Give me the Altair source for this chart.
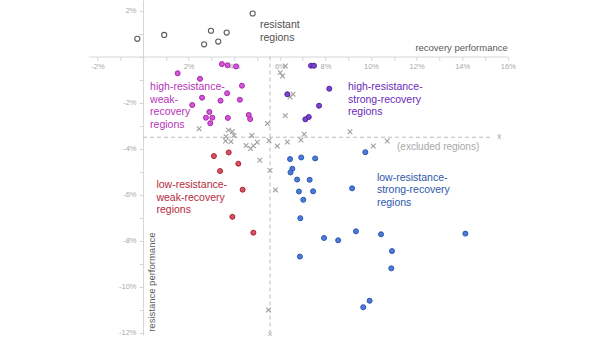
import altair as alt
import pandas as pd

# ---------------- data (percent) ----------------
res_x = [-0.25, 0.93, 2.98, 3.67, 2.68, 3.30, 4.81]
res_y = [0.77, 0.94, 1.12, 1.04, 0.53, 0.65, 1.87]

hw_x = [1.52, 2.50, 3.46, 3.71, 4.08, 4.34, 3.69, 2.59, 3.40, 4.25, 2.16, 2.91, 2.76, 3.04, 3.72, 2.95, 4.64, 4.70]
hw_y = [-0.73, -0.97, -0.33, -0.38, -0.43, -1.27, -1.60, -1.79, -1.92, -1.88, -2.11, -2.41, -2.66, -2.66, -2.67, -2.90, -2.54, -2.72]

hs_x = [7.37, 7.50, 8.17, 6.33, 7.72, 7.27, 7.12]
hs_y = [-0.40, -0.40, -1.40, -1.64, -2.14, -2.63, -2.73]

lw_x = [3.11, 3.76, 4.18, 3.38, 4.37, 3.92, 4.84]
lw_y = [-4.33, -4.17, -4.66, -4.98, -5.79, -6.97, -7.66]

ls_x = [6.45, 6.94, 7.55, 9.75, 6.55, 6.47, 6.76, 7.31, 9.17, 6.84, 7.46, 7.03, 6.90,
        7.94, 8.56, 9.34, 10.44, 14.14, 10.92, 6.88, 10.89, 9.94, 9.66]
ls_y = [-4.46, -4.39, -4.43, -4.16, -4.88, -5.04, -5.35, -5.36, -5.73, -5.87, -5.86, -6.23, -7.03,
        -7.89, -7.99, -7.60, -7.73, -7.70, -8.46, -8.70, -9.21, -10.62, -10.90]

ex_x = [6.25, 6.02, 6.12, 6.45, 6.58, 6.24, 5.46, 2.46, 3.75, 3.92, 3.64, 3.99, 3.62, 3.86, 4.77, 4.52,
        4.72, 4.85, 5.01, 5.53, 5.89, 6.33, 6.93, 7.07, 9.08, 10.10, 10.71, 5.12, 5.57, 5.81, 5.50]
ex_y = [-0.41, -0.70, -0.85, -1.76, -1.64, -2.57, -2.91, -3.14, -3.20, -3.26, -3.48, -3.43, -3.67, -3.70, -3.43, -3.87,
        -4.00, -3.88, -3.73, -3.65, -3.89, -3.72, -3.63, -3.38, -3.27, -3.89, -3.67, -4.51, -4.95, -5.80, -11.02]

median_x = 5.57
median_y = -3.51

group_names = ["hw", "hs", "lw", "ls"]
fill_colors = ["#d455d8", "#7a44cc", "#d9505e", "#4c7bd9"]
stroke_colors = ["#a52aa8", "#52229e", "#a8283a", "#2a55b0"]
text_colors = ["#b534b8", "#6a2ab8", "#b52a3a", "#2f57aa"]

label_lines = [
    ["resistant", "regions"],
    ["high-resistance-", "weak-", "recovery", "regions"],
    ["high-resistance-", "strong-recovery", "regions"],
    ["low-resistance-", "weak-recovery", "regions"],
    ["low-resistance-", "strong-recovery", "regions"],
]
label_x = [5.13, 0.31, 8.99, 0.59, 10.26]
label_y = [1.37, -1.34, -1.33, -5.59, -5.28]
label_colors = ["#505050"] + text_colors
line_step = 0.545  # in percent units (about 12.5 px)

# ---------------- frames ----------------
pts = pd.DataFrame({
    "x": hw_x + hs_x + lw_x + ls_x,
    "y": hw_y + hs_y + lw_y + ls_y,
    "g": ["hw"] * len(hw_x) + ["hs"] * len(hs_x) + ["lw"] * len(lw_x) + ["ls"] * len(ls_x),
})
res = pd.DataFrame({"x": res_x, "y": res_y})
exc = pd.DataFrame({"x": ex_x, "y": ex_y})

rows = []
for lines, lx, ly, col in zip(label_lines, label_x, label_y, label_colors):
    for i, t in enumerate(lines):
        rows.append({"x": lx, "y": ly - i * line_step, "t": t, "c": col})
labels = pd.DataFrame(rows)

# ---------------- geometry ----------------
PX_X = 22.8
PX_Y = 23.0
XMIN, XMAX = -2.4, 16.0
YMIN, YMAX = -12.1, 2.457
W = (XMAX - XMIN) * PX_X
H = (YMAX - YMIN) * PX_Y
LEFT_PAD = 143 - (-XMIN) * PX_X
RIGHT_PAD = 610 - LEFT_PAD - W
BOTTOM_PAD = 343 - H

XS = alt.Scale(domain=[XMIN, XMAX], nice=False, zero=False)
YS = alt.Scale(domain=[YMIN, YMAX], nice=False, zero=False)

FONT = "Liberation Sans"
lab_expr = "(datum.value % 2 == 0 && datum.value != 0) ? datum.value + '%' : ''"

XAX = alt.Axis(values=list(range(-2, 17)), labelExpr=lab_expr, offset=YMAX * PX_Y - H,
               domainColor="#d6d6d6", tickColor="#d6d6d6", tickSize=4, labelColor="#a8a8a8",
               labelFontSize=7.5, labelFont=FONT, labelPadding=2, grid=False, title=None,
               labelOverlap=False, labelFlush=False)
YAX = alt.Axis(values=list(range(-12, 3)), labelExpr=lab_expr, offset=XMIN * PX_X,
               domainColor="#d6d6d6", tickColor="#d6d6d6", tickSize=4, labelColor="#a8a8a8",
               labelFontSize=7.5, labelFont=FONT, labelPadding=3, grid=False, title=None,
               labelOverlap=False, labelFlush=False)


def ex(field="x"):
    return alt.X(f"{field}:Q", scale=XS, axis=XAX)


def ey(field="y"):
    return alt.Y(f"{field}:Q", scale=YS, axis=YAX)


# dashed median lines
vline = alt.Chart(pd.DataFrame({"x": [median_x], "y": [0.0], "y2": [-11.95]})).mark_rule(
    color="#bdbdbd", strokeDash=[4, 3], strokeWidth=1
).encode(x=ex(), y=ey(), y2="y2:Q")
hline = alt.Chart(pd.DataFrame({"x": [0.0], "x2": [15.35], "y": [median_y]})).mark_rule(
    color="#bdbdbd", strokeDash=[4, 3], strokeWidth=1
).encode(x=ex(), x2="x2:Q", y=ey())

xbar = alt.Chart(pd.DataFrame({"x": [median_x, 15.62], "y": [-12.07, median_y], "t": ["x\u0304", "x\u0304"]})).mark_text(
    font=FONT, fontSize=8, color="#9a9a9a", align="center", baseline="middle"
).encode(x=ex(), y=ey(), text="t:N")

excl = alt.Chart(exc).mark_point(
    shape="M-1,-1L1,1M1,-1L-1,1", filled=False, size=22, strokeWidth=1.1, color="#a0a0a0", opacity=1
).encode(x=ex(), y=ey())

resist = alt.Chart(res).mark_point(
    shape="circle", filled=False, size=26, strokeWidth=1.1, color="#5a5a5a", fill="white", opacity=1
).encode(x=ex(), y=ey())

colored = alt.Chart(pts).mark_point(shape="circle", size=25, strokeWidth=1, opacity=1, fillOpacity=1).encode(
    x=ex(), y=ey(),
    fill=alt.Fill("g:N", scale=alt.Scale(domain=group_names, range=fill_colors), legend=None),
    stroke=alt.Stroke("g:N", scale=alt.Scale(domain=group_names, range=stroke_colors), legend=None),
)

region_text = alt.Chart(labels).mark_text(
    font=FONT, fontSize=10.5, align="left", baseline="middle"
).encode(x=ex(), y=ey(), text="t:N", color=alt.Color("c:N", scale=None))

excluded_text = alt.Chart(pd.DataFrame({"x": [11.14], "y": [-3.93], "t": ["(excluded regions)"]})).mark_text(
    font=FONT, fontSize=10, align="left", baseline="middle", color="#a8a8a8"
).encode(x=ex(), y=ey(), text="t:N")

x_title = alt.Chart(pd.DataFrame({"x": [16.0], "y": [0.38], "t": ["recovery performance"]})).mark_text(
    font=FONT, fontSize=9.5, align="right", baseline="middle", color="#595959"
).encode(x=ex(), y=ey(), text="t:N")

y_title = alt.Chart(pd.DataFrame({"x": [0.38], "y": [-11.97], "t": ["resistance performance"]})).mark_text(
    font=FONT, fontSize=9.5, align="left", baseline="middle", angle=270, color="#595959"
).encode(x=ex(), y=ey(), text="t:N")

chart = alt.layer(
    vline, hline, xbar, excl, resist, colored, region_text, excluded_text, x_title, y_title
).properties(
    width=W, height=H,
    autosize=alt.AutoSizeParams(type="none"),
    padding={"left": LEFT_PAD, "top": 0, "right": RIGHT_PAD, "bottom": BOTTOM_PAD},
    background="white",
).configure_view(stroke=None)

chart.save("out.html", embed_options={"renderer": "svg", "actions": False})
